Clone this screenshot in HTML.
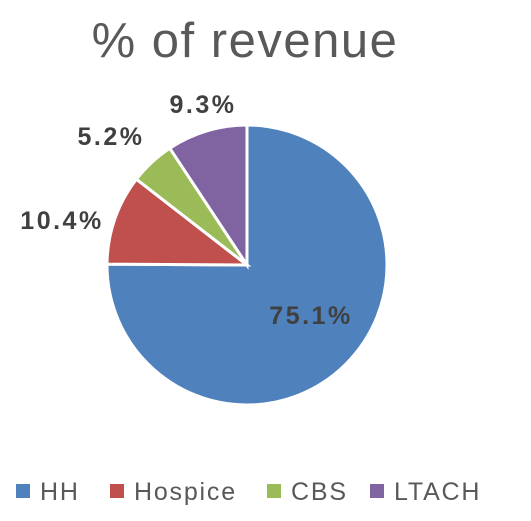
<!DOCTYPE html>
<html><head><meta charset="utf-8"><style>
html,body{margin:0;padding:0;background:#fff;}
svg{display:block;font-family:"Liberation Sans",sans-serif;}
</style></head><body>
<svg width="531" height="521" viewBox="0 0 531 521">
<text x="245" y="57" text-anchor="middle" font-size="49" letter-spacing="1.5" fill="#595959">% of revenue</text>
<g id="slices"></g>
<g id="labels"></g>
<g id="legend"></g>
</svg>
<script>
const categories=["HH","Hospice","CBS","LTACH"];
const values=[75.1,10.4,5.2,9.3];
const valueLabels=["75.1%","10.4%","5.2%","9.3%"];
const colors=["#4F81BD","#C0504D","#9BBB59","#8064A2"];
const NS="http://www.w3.org/2000/svg";
const cx=247,cy=265,r=140;
const total=values.reduce((a,b)=>a+b,0);
const labelPos=[[311,315],[62,220],[111,136],[203,104]];
let a0=0;
const sg=document.getElementById('slices'),lg=document.getElementById('labels'),leg=document.getElementById('legend');
function pt(a,rr){return [cx+rr*Math.sin(a),cy-rr*Math.cos(a)];}
values.forEach((v,i)=>{
  const a1=a0+v/total*2*Math.PI;
  const p0=pt(a0,r),p1=pt(a1,r);
  const p=document.createElementNS(NS,'path');
  p.setAttribute('d',`M${cx},${cy}L${p0[0]},${p0[1]}A${r},${r} 0 ${a1-a0>Math.PI?1:0} 1 ${p1[0]},${p1[1]}Z`);
  p.setAttribute('fill',colors[i]);p.setAttribute('stroke','#fff');p.setAttribute('stroke-width','3');
  
  
  sg.appendChild(p);
  const t=document.createElementNS(NS,'text');
  t.setAttribute('x',labelPos[i][0]);t.setAttribute('y',labelPos[i][1]+9);
  t.setAttribute('text-anchor','middle');t.setAttribute('font-size','25');t.setAttribute('letter-spacing','2.5');t.setAttribute('font-weight','bold');t.setAttribute('fill','#404040');
  t.textContent=valueLabels[i];
  
  
  lg.appendChild(t);
  a0=a1;
});
const legX=[16,110,267,370];
categories.forEach((c,i)=>{
  const g=document.createElementNS(NS,'g');
  
  
  const s=document.createElementNS(NS,'rect');
  s.setAttribute('x',legX[i]);s.setAttribute('y',484);s.setAttribute('width',14);s.setAttribute('height',14);s.setAttribute('fill',colors[i]);
  g.appendChild(s);
  const t=document.createElementNS(NS,'text');
  t.setAttribute('x',legX[i]+24);t.setAttribute('y',500);t.setAttribute('font-size','25');t.setAttribute('letter-spacing','1.8');t.setAttribute('fill','#595959');
  t.textContent=c;
  g.appendChild(t);
  leg.appendChild(g);
});
</script>
</body></html>
